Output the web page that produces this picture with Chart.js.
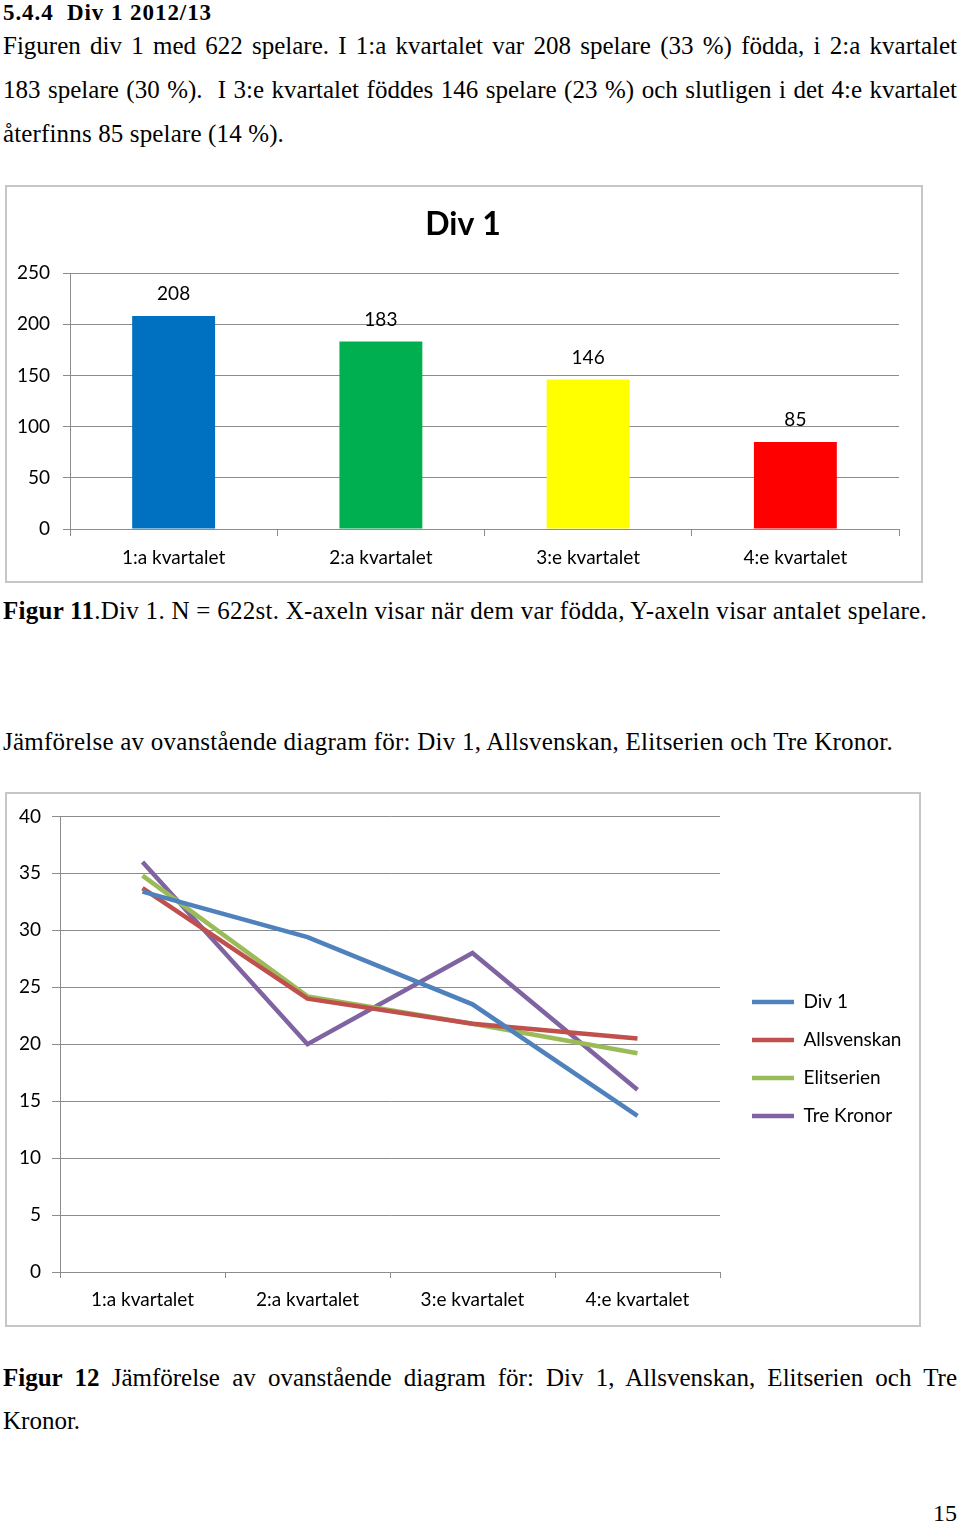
<!DOCTYPE html>
<html><head><meta charset="utf-8">
<script src="https://cdn.jsdelivr.net/npm/chart.js@4.4.1/dist/chart.umd.min.js"></script>
<style>
html,body{margin:0;padding:0;background:#fff;}
body{width:960px;height:1525px;position:relative;overflow:hidden;font-family:"Liberation Serif","Times New Roman",serif;color:#000;}
.t{position:absolute;left:3px;white-space:nowrap;font-size:25px;line-height:30px;}
.box{position:absolute;border:2px solid #c6c6c6;box-sizing:border-box;background:#fff;}
canvas{display:block;}
</style></head>
<body>
<div class="t" id="h0" style="top:-2px;font-weight:bold;font-size:23px" data-fit="letter" data-w="209">5.4.4&nbsp; Div 1 2012/13</div>
<div class="t" id="p1" style="top:30.6px" data-fit="word" data-w="954">Figuren div 1 med 622 spelare. I 1:a kvartalet var 208 spelare (33 %) födda, i 2:a kvartalet</div>
<div class="t" id="p2" style="top:74.6px" data-fit="word" data-w="954">183 spelare (30 %).&nbsp; I 3:e kvartalet föddes 146 spelare (23 %) och slutligen i det 4:e kvartalet</div>
<div class="t" id="p3" style="top:118.6px" data-fit="letter" data-w="281">återfinns 85 spelare (14 %).</div>

<div class="box" style="left:5px;top:185px;width:918px;height:398px"><canvas id="bar" width="914" height="394"></canvas></div>

<div class="t" id="c11" style="top:595.6px" data-fit="letter" data-w="924"><b>Figur 11</b>.Div 1. N = 622st. X-axeln visar när dem var födda, Y-axeln visar antalet spelare.</div>
<div class="t" id="cmp" style="top:726.6px" data-fit="letter" data-w="890">Jämförelse av ovanstående diagram för: Div 1, Allsvenskan, Elitserien och Tre Kronor.</div>

<div class="box" style="left:5px;top:792px;width:916px;height:535px"><canvas id="line" width="912" height="531"></canvas></div>

<div class="t" id="c12" style="top:1362.6px" data-fit="word" data-w="954"><b>Figur 12</b> Jämförelse av ovanstående diagram för: Div 1, Allsvenskan, Elitserien och Tre</div>
<div class="t" id="c12b" style="top:1405.6px">Kronor.</div>
<div class="t" id="pg" style="top:1497.9px;left:auto;right:3px;font-size:24px">15</div>

<script>
// ---------- data ----------
const barCategories = ['1:a kvartalet', '2:a kvartalet', '3:e kvartalet', '4:e kvartalet'];
const barValues = [208, 183, 146, 85];
const barColors = ['#0070C0', '#00B050', '#FFFF00', '#FF0000'];
const barTitle = 'Div 1';
const barYMin = 0, barYMax = 250, barYStep = 50;

const lineCategories = ['1:a kvartalet', '2:a kvartalet', '3:e kvartalet', '4:e kvartalet'];
const seriesNames = ['Div 1', 'Allsvenskan', 'Elitserien', 'Tre Kronor'];
const div1Values = [33.4, 29.4, 23.5, 13.7];
const allsvenskanValues = [33.7, 24.0, 21.8, 20.5];
const elitserienValues = [34.8, 24.2, 21.8, 19.2];
const treKronorValues = [36.0, 20.0, 28.0, 16.0];
const seriesColors = ['#4F81BD', '#C0504D', '#9BBB59', '#8064A2'];
const lineYMin = 0, lineYMax = 40, lineYStep = 5;

// ---------- text fitting ----------
document.querySelectorAll('[data-fit]').forEach(el => {
  const w = parseFloat(el.dataset.w);
  const nat = el.getBoundingClientRect().width;
  if (el.dataset.fit === 'word') {
    const n = (el.textContent.match(/[ \u00a0]/g) || []).length;
    el.style.wordSpacing = ((w - nat) / n) + 'px';
  } else {
    const n = el.textContent.length;
    el.style.letterSpacing = ((w - nat) / n) + 'px';
  }
});

const FONT = 'Lato, "Open Sans", sans-serif';
const GRID = '#8c8c8c';
const tickFont = {family: FONT, size: 19};

// ---------- bar chart ----------
const valueLabels = {
  id: 'valueLabels',
  afterDatasetsDraw(chart) {
    const ctx = chart.ctx;
    const meta = chart.getDatasetMeta(0);
    const ds = chart.data.datasets[0];
    ctx.save();
    ctx.font = '19px ' + FONT;
    ctx.fillStyle = '#000';
    ctx.textAlign = 'center';
    ctx.textBaseline = 'middle';
    meta.data.forEach((el, i) => ctx.fillText(String(ds.data[i]), el.x, el.y - 22));
    ctx.restore();
  }
};
const titleShift = {
  id: 'titleShift',
  afterLayout(chart) {
    const tb = chart.titleBlock;
    if (tb) { tb.left += 10; tb.right += 10; }
  }
};

new Chart(document.getElementById('bar'), {
  type: 'bar',
  data: {
    labels: barCategories,
    datasets: [{data: barValues, backgroundColor: barColors, borderWidth: 0,
      categoryPercentage: 1.0, barPercentage: 0.4}]
  },
  options: {
    responsive: false, animation: false, devicePixelRatio: 1,
    layout: {padding: {left: 0, right: 22, top: 0, bottom: 0}},
    plugins: {
      legend: {display: false}, tooltip: {enabled: false},
      title: {display: true, text: barTitle, color: '#000',
        font: {family: FONT, size: 32, weight: 'bold', lineHeight: 1.2},
        padding: {top: 18, bottom: 29.6}}
    },
    scales: {
      x: {
        grid: {offset: true, drawOnChartArea: false, drawTicks: true, tickLength: 7, tickColor: GRID, color: GRID},
        border: {display: true, color: GRID, width: 1},
        ticks: {font: tickFont, color: '#000', padding: 10, maxRotation: 0, autoSkip: false},
        afterFit(s) { s.height = 52; }
      },
      y: {
        min: barYMin, max: barYMax,
        ticks: {stepSize: barYStep, font: tickFont, color: '#000', padding: 13},
        grid: {color: GRID, tickLength: 7, tickColor: GRID},
        border: {display: true, color: GRID, width: 1},
        afterFit(s) { s.width = 63; }
      }
    }
  },
  plugins: [valueLabels, titleShift]
});

// ---------- line chart ----------
const LEG_SIZE = 19, LEG_PAD = 19, LEG_LINE = 42;
const mctx = document.createElement('canvas').getContext('2d');
mctx.font = LEG_SIZE + 'px ' + FONT;
const maxText = Math.max(...seriesNames.map(s => mctx.measureText(s).width));
const legendWidth = LEG_PAD + LEG_LINE + LEG_SIZE / 2 + maxText;
const padRight = 912 - 713 - legendWidth - 10;

const legendShift = {
  id: 'legendShift',
  afterLayout(chart) {
    const lg = chart.legend;
    if (lg) { lg.left += 13; lg.right += 13; lg.top -= 11; lg.bottom -= 11; }
  }
};

const seriesValues = [div1Values, allsvenskanValues, elitserienValues, treKronorValues];
new Chart(document.getElementById('line'), {
  type: 'line',
  data: {
    labels: lineCategories,
    datasets: seriesNames.map((name, i) => ({
      label: name, data: seriesValues[i], borderColor: seriesColors[i], backgroundColor: seriesColors[i],
      borderWidth: 4.5, pointRadius: 0, tension: 0, fill: false
    }))
  },
  options: {
    responsive: false, animation: false, devicePixelRatio: 1,
    layout: {padding: {left: 0, right: padRight, top: 21, bottom: 0}},
    plugins: {
      tooltip: {enabled: false},
      legend: {
        position: 'right', align: 'center',
        labels: {usePointStyle: true, pointStyle: 'line', pointStyleWidth: LEG_LINE,
          padding: LEG_PAD, color: '#000', font: {family: FONT, size: LEG_SIZE}}
      }
    },
    scales: {
      x: {
        offset: true,
        grid: {offset: true, drawOnChartArea: false, drawTicks: true, tickLength: 6, tickColor: GRID, color: GRID},
        border: {display: true, color: GRID, width: 1},
        ticks: {font: tickFont, color: '#000', padding: 10, maxRotation: 0, autoSkip: false},
        afterFit(s) { s.height = 53; }
      },
      y: {
        min: lineYMin, max: lineYMax,
        ticks: {stepSize: lineYStep, font: tickFont, color: '#000', padding: 11},
        grid: {color: GRID, tickLength: 8, tickColor: GRID},
        border: {display: true, color: GRID, width: 1},
        afterFit(s) { s.width = 53; }
      }
    }
  },
  plugins: [legendShift]
});
</script>
</body></html>
